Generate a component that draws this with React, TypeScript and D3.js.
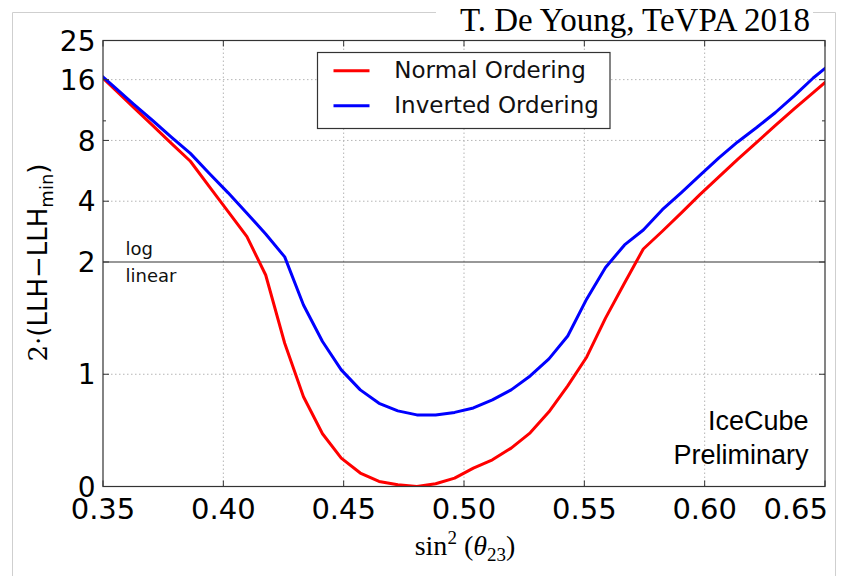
import React from 'react';
import * as d3 from 'd3';

const xValues = [0.3471, 0.3549, 0.3627, 0.3706, 0.3784, 0.3863, 0.3941, 0.4020, 0.4098, 0.4176,
  0.4255, 0.4333, 0.4412, 0.4490, 0.4569, 0.4647, 0.4725, 0.4804, 0.4882, 0.4961,
  0.5039, 0.5118, 0.5196, 0.5275, 0.5353, 0.5431, 0.5510, 0.5588, 0.5667, 0.5745,
  0.5824, 0.5902, 0.5980, 0.6059, 0.6137, 0.6216, 0.6294, 0.6373, 0.6451, 0.6529];

const normalOrdering = [17.6, 14.3, 11.66, 9.5, 7.74, 6.31, 4.74, 3.55, 2.67, 1.884,
  1.276, 0.80, 0.47, 0.253, 0.12, 0.045, 0.015, 0.0, 0.024, 0.075,
  0.164, 0.238, 0.342, 0.478, 0.665, 0.896, 1.154, 1.50, 1.813, 2.32,
  2.84, 3.49, 4.31, 5.28, 6.45, 7.82, 9.49, 11.5, 13.8, 16.6];

const invertedOrdering = [17.7, 14.66, 12.1, 10.04, 8.3, 6.9, 5.5, 4.4, 3.49, 2.75,
  2.12, 1.617, 1.292, 1.039, 0.861, 0.741, 0.674, 0.638, 0.636, 0.66,
  0.70, 0.772, 0.861, 0.985, 1.137, 1.341, 1.671, 1.951, 2.43, 2.88,
  3.63, 4.4, 5.37, 6.56, 7.86, 9.27, 11.0, 13.34, 16.3, 19.4];

const seriesNames = ['Normal Ordering', 'Inverted Ordering'];
const seriesColors = ['#ff0000', '#0000ff'];
const xTicks = [0.35, 0.40, 0.45, 0.50, 0.55, 0.60, 0.65];
const xGrid = [0.40, 0.45, 0.50, 0.55, 0.60];
const yTicks = [0, 1, 2, 4, 8, 16, 25];
const yGrid = [1, 4, 8, 16];
const yMinorTicks = [10];

const W = 846, H = 576;
const L = 103, R = 825, T = 40.5, B = 486.5, SPLIT = 262;

export default function App() {
  const x = d3.scaleLinear().domain([0.35, 0.65]).range([L, R]);
  const yLin = d3.scaleLinear().domain([0, 2]).range([B, SPLIT]);
  const yLog = d3.scaleLog().base(2).domain([2, 25]).range([SPLIT, T]);
  const y = (v: number) => (v <= 2 ? yLin(v) : yLog(v));

  const line = d3.line<[number, number]>().x(d => x(d[0])).y(d => y(d[1]));
  const series = [normalOrdering, invertedOrdering].map(vals =>
    line(xValues.map((xv, i) => [xv, vals[i]] as [number, number])) || '');

  const tickFont = 'DejaVu Sans, sans-serif';
  const axisColor = '#333';
  const gridProps = { stroke: '#b5b5b5', strokeWidth: 1, strokeDasharray: '1.5,2.5' };

  return (
    <svg width={W} height={H} style={{ position: 'absolute', left: 0, top: 0, background: '#fff' }}>
      <defs>
        <clipPath id="plotclip">
          <rect x={L} y={T} width={R - L} height={B - T} />
        </clipPath>
      </defs>
      {/* figure frame */}
      <g stroke="#cfcfcf" strokeWidth={1}>
        <line x1={12.5} y1={12.5} x2={12.5} y2={H} />
        <line x1={12.5} y1={12.5} x2={835.5} y2={12.5} />
        <line x1={835.5} y1={12.5} x2={835.5} y2={H} />
      </g>
      {/* grid */}
      {xGrid.map(t => (
        <line key={'xg' + t} x1={x(t)} x2={x(t)} y1={T} y2={B} {...gridProps} />
      ))}
      {yGrid.map(t => (
        <line key={'yg' + t} x1={L} x2={R} y1={y(t)} y2={y(t)} {...gridProps} />
      ))}
      {/* log/linear separator */}
      <line x1={L} x2={R} y1={y(2)} y2={y(2)} stroke="#333" strokeWidth={1.2} />
      <text x={125.5} y={255} fontFamily={tickFont} fontSize={18} fill="#111">log</text>
      <text x={125.5} y={281.5} fontFamily={tickFont} fontSize={18} fill="#111">linear</text>
      {/* curves */}
      <g clipPath="url(#plotclip)">
        {series.map((d, i) => (
          <path key={i} d={d} fill="none" stroke={seriesColors[i]} strokeWidth={3} strokeLinejoin="round" />
        ))}
      </g>
      {/* axes frame */}
      <rect x={L} y={T} width={R - L} height={B - T} fill="none" stroke={axisColor} strokeWidth={1.2} />
      {/* ticks */}
      {xTicks.map(t => (
        <g key={'xt' + t} stroke={axisColor} strokeWidth={1}>
          <line x1={x(t)} x2={x(t)} y1={B} y2={B - 6} />
          <line x1={x(t)} x2={x(t)} y1={T} y2={T + 6} />
        </g>
      ))}
      {yTicks.map(t => (
        <g key={'yt' + t} stroke={axisColor} strokeWidth={1}>
          <line x1={L} x2={L + 6} y1={y(t)} y2={y(t)} />
          <line x1={R} x2={R - 6} y1={y(t)} y2={y(t)} />
        </g>
      ))}
      {yMinorTicks.map(t => (
        <g key={'ym' + t} stroke={axisColor} strokeWidth={1}>
          <line x1={L} x2={L + 3} y1={y(t)} y2={y(t)} />
          <line x1={R} x2={R - 3} y1={y(t)} y2={y(t)} />
        </g>
      ))}
      {/* tick labels */}
      {xTicks.map((t, i) => {
        const last = i === xTicks.length - 1;
        return (
          <text key={'xl' + t} x={last ? 828 : x(t)} y={518.5} textAnchor={last ? 'end' : 'middle'}
            fontFamily={tickFont} fontSize={29} fill="#000">{t.toFixed(2)}</text>
        );
      })}
      {yTicks.map(t => (
        <text key={'yl' + t} x={95.5} y={y(t)} dy="0.36em" textAnchor="end"
          fontFamily={tickFont} fontSize={28} fill="#000">{t}</text>
      ))}
      {/* axis labels */}
      <text transform="translate(47,262.5) rotate(-90)" textAnchor="middle" fontFamily={tickFont} fontSize={26} fill="#000">
        <tspan fontFamily="DejaVu Serif, serif">2·</tspan>
        <tspan>(LLH−LLH</tspan>
        <tspan fontSize={18} dy={6}>min</tspan>
        <tspan dy={-6}>)</tspan>
      </text>
      <text x={465} y={555} textAnchor="middle" fontFamily="Liberation Serif, serif" fontSize={28} fill="#000">
        <tspan>sin</tspan>
        <tspan fontSize={19} dy={-11}>2</tspan>
        <tspan dy={11}>{'\u00a0('}</tspan>
        <tspan fontStyle="italic">θ</tspan>
        <tspan fontSize={19} dy={6}>23</tspan>
        <tspan dy={-6}>)</tspan>
      </text>
      {/* legend */}
      <rect x={317.5} y={52.5} width={292.5} height={76} fill="#fff" stroke={axisColor} strokeWidth={1.2} />
      {seriesNames.map((n, i) => (
        <g key={n}>
          <line x1={333.5} x2={369.5} y1={70.7 + i * 35} y2={70.7 + i * 35} stroke={seriesColors[i]} strokeWidth={3} />
          <text x={394.3} y={77.5 + i * 35} fontFamily={tickFont} fontSize={23} fill="#111">{n}</text>
        </g>
      ))}
      {/* annotation */}
      <text x={808.5} y={430} textAnchor="end" fontFamily="Liberation Sans, Arial, sans-serif" fontSize={27} fill="#000">IceCube</text>
      <text x={808.5} y={463.5} textAnchor="end" fontFamily="Liberation Sans, Arial, sans-serif" fontSize={27} fill="#000">Preliminary</text>
      {/* title */}
      <rect x={436} y={0} width={377} height={34} fill="#fff" />
      <text x={810} y={30.5} textAnchor="end" fontFamily="Liberation Serif, Times New Roman, serif" fontSize={33} fill="#000">T. De Young, TeVPA 2018</text>
    </svg>
  );
}
